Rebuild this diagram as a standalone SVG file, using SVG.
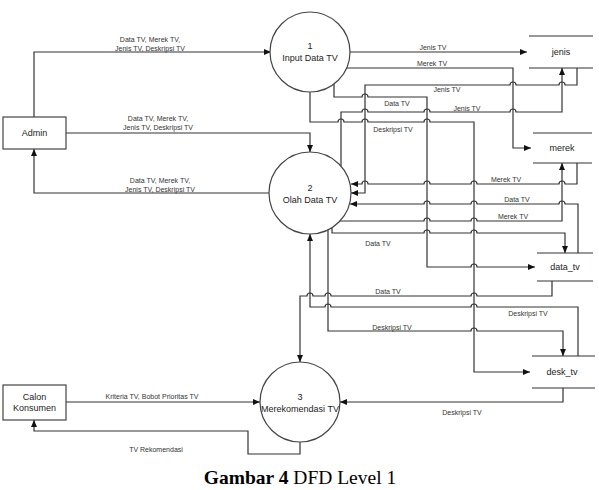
<svg xmlns="http://www.w3.org/2000/svg" width="599" height="490" viewBox="0 0 599 490">
<defs>
<marker id="arr" markerWidth="7" markerHeight="6" refX="7" refY="3" orient="auto" markerUnits="userSpaceOnUse">
<path d="M0,0 L7,3 L0,6 z" fill="#111"/>
</marker>
<style>
.c{fill:none;stroke:#333;stroke-width:1.2}
.a{marker-end:url(#arr)}
.n{fill:#fff;stroke:#444;stroke-width:1.2}
.s{stroke:#333;stroke-width:1.2}
.t{font-family:"Liberation Sans",Arial,sans-serif;font-size:9px;fill:#222;text-anchor:middle}
.l{font-family:"Liberation Sans",Arial,sans-serif;font-size:7px;fill:#333;text-anchor:middle}
</style>
</defs>
<rect width="599" height="490" fill="#fff"/>
<g id="connectors">
<path class="c a" d="M34,117 V52 H271"/>
<path class="c a" d="M66,133 H310 V152"/>
<path class="c a" d="M269,193 H34 V149"/>
<path class="c a" d="M349,52 H527"/>
<path class="c a" d="M347,68 H513 V148 H531"/>
<path class="c a" d="M577,68 V85 H565 a3,3 0 0 0 -6,0 H516 a3,3 0 0 0 -6,0 H365 V193 H351"/>
<path class="c a" d="M341,166 V112 H362 a3,3 0 0 1 6,0 H424 a3,3 0 0 1 6,0 H510 a3,3 0 0 1 6,0 H562 V68"/>
<path class="c a" d="M334,84 V97 H362 a3,3 0 0 1 6,0 H427 V267 H471 a3,3 0 0 1 6,0 H535"/>
<path class="c a" d="M310,92 V122 H338 a3,3 0 0 1 6,0 H362 a3,3 0 0 1 6,0 H424 a3,3 0 0 1 6,0 H474 V372 H530"/>
<path class="c a" d="M577,163 V184 H565 a3,3 0 0 0 -6,0 H477 a3,3 0 0 0 -6,0 H430 a3,3 0 0 0 -6,0 H368 a3,3 0 0 0 -6,0 H351"/>
<path class="c a" d="M578,253 V204 H565 a3,3 0 0 0 -6,0 H477 a3,3 0 0 0 -6,0 H430 a3,3 0 0 0 -6,0 H350"/>
<path class="c a" d="M340,221 H424 a3,3 0 0 1 6,0 H471 a3,3 0 0 1 6,0 H562 V163"/>
<path class="c a" d="M332,228 V233 H424 a3,3 0 0 1 6,0 H471 a3,3 0 0 1 6,0 H565 V253"/>
<path class="c a" d="M552,281 V296 H477 a3,3 0 0 0 -6,0 H331 a3,3 0 0 0 -6,0 H313 a3,3 0 0 0 -6,0 H300 V362"/>
<path class="c a" d="M578,356 V307 H477 a3,3 0 0 0 -6,0 H331 a3,3 0 0 0 -6,0 H310 V234"/>
<path class="c a" d="M328,230 V331 H471 a3,3 0 0 1 6,0 H563 V356"/>
<path class="c a" d="M563,388 V402 H340"/>
<path class="c a" d="M66,402 H260"/>
<path class="c a" d="M300,442 V454 H248 V431 H34 V420"/>
<text class="l" x="150" y="41.5">Data TV, Merek TV,</text>
<text class="l" x="150" y="50.5">Jenis TV, Deskripsi TV</text>
<text class="l" x="158" y="120.5">Data TV, Merek TV,</text>
<text class="l" x="158" y="129.5">Jenis TV, Deskripsi TV</text>
<text class="l" x="160" y="182.5">Data TV, Merek TV,</text>
<text class="l" x="160" y="191.5">Jenis TV, Deskripsi TV</text>
<text class="l" x="433" y="49.5">Jenis TV</text>
<text class="l" x="432" y="66">Merek TV</text>
<text class="l" x="447" y="91.5">Jenis TV</text>
<text class="l" x="397" y="105.5">Data TV</text>
<text class="l" x="467" y="110.5">Jenis TV</text>
<text class="l" x="393" y="131.5">Deskripsi TV</text>
<text class="l" x="506" y="181.5">Merek TV</text>
<text class="l" x="517" y="201.5">Data TV</text>
<text class="l" x="513" y="218.5">Merek TV</text>
<text class="l" x="378" y="245.5">Data TV</text>
<text class="l" x="388" y="293.5">Data TV</text>
<text class="l" x="528" y="315.5">Deskripsi TV</text>
<text class="l" x="392" y="329.5">Deskripsi TV</text>
<text class="l" x="462" y="414.5">Deskripsi TV</text>
<text class="l" x="152" y="398.5">Kriteria TV, Bobot Prioritas TV</text>
<text class="l" x="156" y="451.5">TV Rekomendasi</text>
</g>
<g id="admin">
<rect class="n" x="3" y="117" width="63" height="32"/>
<text class="t" x="34.5" y="136">Admin</text>
</g>
<g id="calon-konsumen">
<rect class="n" x="3" y="385" width="63" height="35"/>
<text class="t" x="34.5" y="400">Calon</text>
<text class="t" x="34.5" y="411">Konsumen</text>
</g>
<g id="p1">
<circle class="n" cx="310" cy="52" r="40"/>
<text class="t" x="310" y="49">1</text>
<text class="t" x="310" y="61">Input Data TV</text>
</g>
<g id="p2">
<circle class="n" cx="310" cy="193" r="41"/>
<text class="t" x="310" y="191">2</text>
<text class="t" x="310" y="203">Olah Data TV</text>
</g>
<g id="p3">
<circle class="n" cx="300" cy="402" r="40"/>
<text class="t" x="300" y="400">3</text>
<text class="t" x="300" y="412">Merekomendasi TV</text>
</g>
<g id="jenis">
<line class="s" x1="529" y1="36" x2="593" y2="36"/>
<line class="s" x1="529" y1="68" x2="593" y2="68"/>
<text class="t" x="561" y="55">jenis</text>
</g>
<g id="merek">
<line class="s" x1="533" y1="133" x2="592" y2="133"/>
<line class="s" x1="533" y1="163" x2="592" y2="163"/>
<text class="t" x="562" y="151">merek</text>
</g>
<g id="data_tv">
<line class="s" x1="537" y1="253" x2="593" y2="253"/>
<line class="s" x1="537" y1="281" x2="593" y2="281"/>
<text class="t" x="565" y="270">data_tv</text>
</g>
<g id="desk_tv">
<line class="s" x1="532" y1="356" x2="595" y2="356"/>
<line class="s" x1="532" y1="388" x2="595" y2="388"/>
<text class="t" x="562" y="375">desk_tv</text>
</g>
<text x="300" y="484" font-family="'Liberation Serif','Times New Roman',serif" font-size="19.5" text-anchor="middle" fill="#000"><tspan font-weight="bold">Gambar 4</tspan> DFD Level 1</text>
</svg>
